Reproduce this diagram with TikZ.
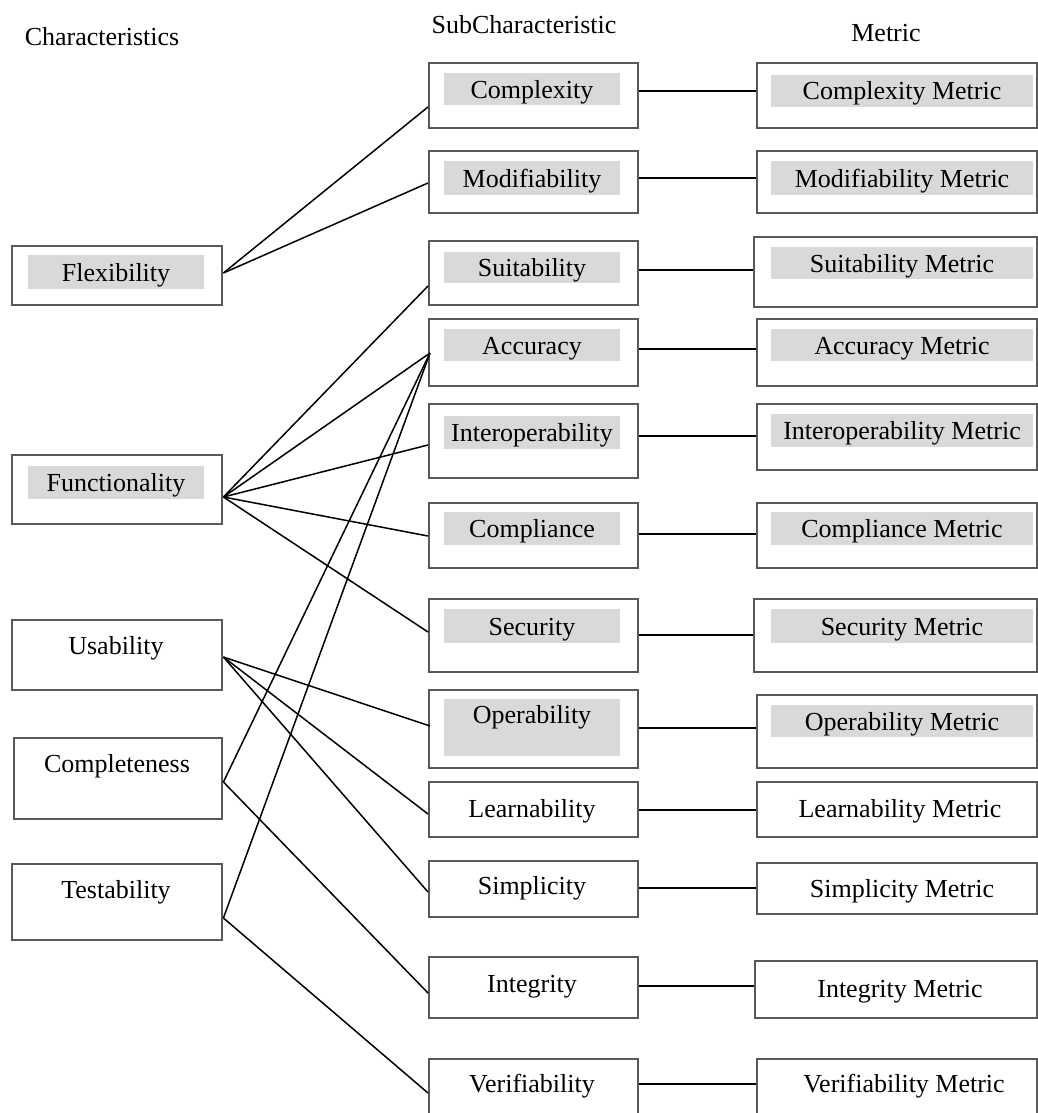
\documentclass[tikz,border=0pt]{standalone}
\usepackage{fontspec}
\setmainfont{Liberation Serif}
\usetikzlibrary{calc}

\begin{document}
\begin{tikzpicture}[x=0.5pt,y=-0.5pt,
  box/.style={draw=black!65,line width=1.2pt,anchor=north west,inner sep=0pt},
  hl/.style={fill=black!15,inner sep=0pt},
  lbl/.style={font=\fontsize{13}{15}\selectfont,inner sep=0pt,text height=9pt,text depth=0pt},
  link/.style={line width=0.75pt}]
  \clip (0,0) rectangle (1038,1113);
  % column heads
  \node[lbl] (hChar) at (102,37) {Characteristics};
  \node[lbl] (hSub) at (524,25) {SubCharacteristic};
  \node[lbl] (hMet) at (886,33) {Metric};
  % characteristics
  \node[box,minimum width=105pt,minimum height=29.5pt] (flex) at (11,245) {};
  \node[hl,lbl,minimum width=88pt,minimum height=17pt] (flexT) at (116,272) {Flexibility};
  \node[box,minimum width=105pt,minimum height=34.5pt] (func) at (11,454) {};
  \node[hl,lbl,minimum width=88pt,minimum height=16.5pt] (funcT) at (116,482.5) {Functionality};
  \node[box,minimum width=105pt,minimum height=35pt] (usab) at (11,619) {};
  \node[lbl] (usabT) at (116,645) {Usability};
  \node[box,minimum width=104pt,minimum height=40.5pt] (cmpl) at (13,737) {};
  \node[lbl] (cmplT) at (117,763) {Completeness};
  \node[box,minimum width=105pt,minimum height=38pt] (test) at (11,863) {};
  \node[lbl] (testT) at (116,889) {Testability};
  % subcharacteristics
  \node[box,minimum width=104.5pt,minimum height=32.5pt] (cplx) at (428,62) {};
  \node[hl,lbl,minimum width=88pt,minimum height=16pt] (cplxT) at (532,89) {Complexity};
  \node[box,minimum width=104.5pt,minimum height=31pt] (modi) at (428,150) {};
  \node[hl,lbl,minimum width=88pt,minimum height=17pt] (modiT) at (532,178) {Modifiability};
  \node[box,minimum width=104.5pt,minimum height=32pt] (suit) at (428,240) {};
  \node[hl,lbl,minimum width=88pt,minimum height=15.5pt] (suitT) at (532,267.5) {Suitability};
  \node[box,minimum width=104.5pt,minimum height=33.5pt] (accu) at (428,318) {};
  \node[hl,lbl,minimum width=88pt,minimum height=16pt] (accuT) at (532,345) {Accuracy};
  \node[box,minimum width=104.5pt,minimum height=37pt] (intr) at (428,403) {};
  \node[hl,lbl,minimum width=88pt,minimum height=16.5pt] (intrT) at (532,432.5) {Interoperability};
  \node[box,minimum width=104.5pt,minimum height=32.5pt] (comp) at (428,502) {};
  \node[hl,lbl,minimum width=88pt,minimum height=16.5pt] (compT) at (532,528.5) {Compliance};
  \node[box,minimum width=104.5pt,minimum height=36.5pt] (secu) at (428,598) {};
  \node[hl,lbl,minimum width=88pt,minimum height=17pt] (secuT) at (532,626) {Security};
  \node[box,minimum width=104.5pt,minimum height=39pt] (oper) at (428,689) {};
  \node[hl,lbl,minimum width=88pt,minimum height=28.5pt,text height=9pt,text depth=13pt] (operT) at (532,727.5) {Operability};
  \node[box,minimum width=104.5pt,minimum height=27.5pt] (lern) at (428,781) {};
  \node[lbl] (lernT) at (532,808) {Learnability};
  \node[box,minimum width=104.5pt,minimum height=28pt] (simp) at (428,860) {};
  \node[lbl] (simpT) at (532,885) {Simplicity};
  \node[box,minimum width=104.5pt,minimum height=30.5pt] (intg) at (428,956) {};
  \node[lbl] (intgT) at (532,983) {Integrity};
  \node[box,minimum width=104.5pt,minimum height=40pt] (veri) at (428,1058) {};
  \node[lbl] (veriT) at (532,1083) {Verifiability};
  % metrics
  \node[box,minimum width=140pt,minimum height=32.5pt] (cplxM) at (756,62) {};
  \node[hl,lbl,minimum width=131pt,minimum height=16pt] (cplxMT) at (902,91) {Complexity Metric};
  \node[box,minimum width=140pt,minimum height=31pt] (modiM) at (756,150) {};
  \node[hl,lbl,minimum width=131pt,minimum height=17pt] (modiMT) at (902,178) {Modifiability Metric};
  \node[box,minimum width=141.5pt,minimum height=35pt] (suitM) at (753,236) {};
  \node[hl,lbl,minimum width=131pt,minimum height=16pt] (suitMT) at (902,263) {Suitability Metric};
  \node[box,minimum width=140pt,minimum height=33.5pt] (accuM) at (756,318) {};
  \node[hl,lbl,minimum width=131pt,minimum height=16pt] (accuMT) at (902,345) {Accuracy Metric};
  \node[box,minimum width=140pt,minimum height=33pt] (intrM) at (756,403) {};
  \node[hl,lbl,minimum width=131pt,minimum height=16.5pt] (intrMT) at (902,430.5) {Interoperability Metric};
  \node[box,minimum width=140pt,minimum height=32.5pt] (compM) at (756,502) {};
  \node[hl,lbl,minimum width=131pt,minimum height=16.5pt] (compMT) at (902,528.5) {Compliance Metric};
  \node[box,minimum width=141.5pt,minimum height=36.5pt] (secuM) at (753,598) {};
  \node[hl,lbl,minimum width=131pt,minimum height=17pt] (secuMT) at (902,626) {Security Metric};
  \node[box,minimum width=140pt,minimum height=36.5pt] (operM) at (756,694) {};
  \node[hl,lbl,minimum width=131pt,minimum height=16pt] (operMT) at (902,721) {Operability Metric};
  \node[box,minimum width=140pt,minimum height=27.5pt] (lernM) at (756,781) {};
  \node[lbl] (lernMT) at (900,808) {Learnability Metric};
  \node[box,minimum width=140pt,minimum height=25.5pt] (simpM) at (756,862) {};
  \node[lbl] (simpMT) at (902,888) {Simplicity Metric};
  \node[box,minimum width=141pt,minimum height=28.5pt] (intgM) at (754,960) {};
  \node[lbl] (intgMT) at (900,988) {Integrity Metric};
  \node[box,minimum width=140pt,minimum height=40pt] (veriM) at (756,1058) {};
  \node[lbl] (veriMT) at (904,1083) {Verifiability Metric};
  % characteristic to subcharacteristic
  \draw[link] ($(flex.north east)+(0,28)$) -- ($(cplx.north west)+(0,45)$);
  \draw[link] ($(flex.north east)+(0,28)$) -- ($(modi.north west)+(0,33)$);
  \draw[link] ($(func.north east)+(0,43)$) -- ($(suit.north west)+(0,46)$);
  \draw[link] ($(func.north east)+(0,43)$) -- ($(accu.north west)+(2,35)$);
  \draw[link] ($(func.north east)+(0,43)$) -- ($(intr.north west)+(0,42)$);
  \draw[link] ($(func.north east)+(0,43)$) -- ($(comp.north west)+(0,34)$);
  \draw[link] ($(func.north east)+(0,43)$) -- ($(secu.north west)+(0,34)$);
  \draw[link] ($(usab.north east)+(0,38)$) -- ($(oper.north west)+(2,37)$);
  \draw[link] ($(usab.north east)+(0,38)$) -- ($(lern.north west)+(0,33)$);
  \draw[link] ($(usab.north east)+(0,38)$) -- ($(simp.north west)+(0,32)$);
  \draw[link] ($(cmpl.north east)+(0,45)$) -- ($(accu.north west)+(2,35)$);
  \draw[link] ($(cmpl.north east)+(0,45)$) -- ($(intg.north west)+(0,37)$);
  \draw[link] ($(test.north east)+(0,55)$) -- ($(accu.north west)+(2,35)$);
  \draw[link] ($(test.north east)+(0,55)$) -- ($(veri.north west)+(0,35)$);
  % subcharacteristic to metric
  \draw[link] ($(cplx.north east)+(0,29)$) -- ($(cplxM.north west)+(0,29)$);
  \draw[link] ($(modi.north east)+(0,28)$) -- ($(modiM.north west)+(0,28)$);
  \draw[link] ($(suit.north east)+(0,30)$) -- ($(suitM.north west)+(0,34)$);
  \draw[link] ($(accu.north east)+(0,31)$) -- ($(accuM.north west)+(0,31)$);
  \draw[link] ($(intr.north east)+(0,33)$) -- ($(intrM.north west)+(0,33)$);
  \draw[link] ($(comp.north east)+(0,32)$) -- ($(compM.north west)+(0,32)$);
  \draw[link] ($(secu.north east)+(0,37)$) -- ($(secuM.north west)+(0,37)$);
  \draw[link] ($(oper.north east)+(0,39)$) -- ($(operM.north west)+(0,34)$);
  \draw[link] ($(lern.north east)+(0,29)$) -- ($(lernM.north west)+(0,29)$);
  \draw[link] ($(simp.north east)+(0,28)$) -- ($(simpM.north west)+(0,26)$);
  \draw[link] ($(intg.north east)+(0,30)$) -- ($(intgM.north west)+(0,26)$);
  \draw[link] ($(veri.north east)+(0,26)$) -- ($(veriM.north west)+(0,26)$);
\end{tikzpicture}
\end{document}
